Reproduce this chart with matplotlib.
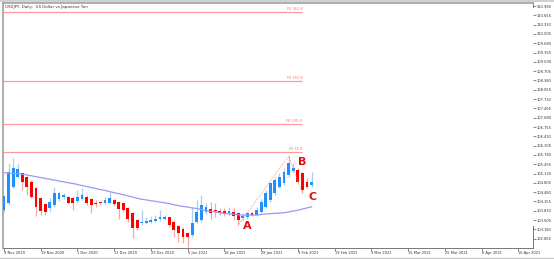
import matplotlib
matplotlib.use("Agg")
import matplotlib.pyplot as plt
import numpy as np

# ---------------- data ----------------
title = "USDJPY, Daily:  US Dollar vs Japanese Yen"

opens = [103.86, 104.09, 104.67, 105.00, 105.14, 105.00, 104.85, 104.61, 104.26, 104.07,
         103.91, 104.03, 104.23, 104.30, 104.32, 104.26, 104.18, 104.23, 104.32, 104.23,
         104.11, 104.11, 104.09, 104.11, 104.20, 104.15, 104.09, 103.91, 103.74, 103.51,
         103.39, 103.41, 103.45, 103.48, 103.53, 103.55, 103.60, 103.45, 103.30, 103.18,
         103.04, 102.98, 103.45, 103.51, 103.80, 103.88, 103.83, 103.83, 103.82, 103.76,
         103.80, 103.74, 103.59, 103.62, 103.74, 103.68, 103.80, 103.97, 104.20, 104.44,
         104.67, 104.79, 105.08, 105.23, 105.25, 105.14, 104.85, 104.73]
highs = [104.38, 105.49, 105.66, 105.49, 105.16, 105.04, 104.90, 104.67, 104.32, 104.11,
         104.26, 104.67, 104.50, 104.44, 104.34, 104.30, 104.55, 104.61, 104.38, 104.26,
         104.20, 104.15, 104.32, 104.50, 104.23, 104.18, 104.11, 103.97, 103.80, 103.53,
         103.86, 103.62, 103.65, 103.68, 103.86, 103.68, 103.62, 103.51, 103.33, 103.25,
         103.10, 103.97, 104.20, 104.38, 104.09, 104.15, 104.09, 103.91, 103.91, 103.97,
         103.91, 103.80, 103.74, 103.80, 103.80, 103.97, 104.23, 104.55, 104.85, 105.02,
         105.14, 105.31, 105.74, 105.49, 105.31, 105.19, 104.96, 105.19]
lows = [103.80, 104.03, 104.61, 104.96, 104.55, 104.38, 104.26, 103.65, 103.68, 103.68,
        103.80, 103.97, 104.18, 104.23, 104.07, 103.86, 104.11, 104.20, 104.03, 103.74,
        103.97, 104.03, 104.05, 104.09, 104.00, 103.53, 103.80, 103.45, 102.87, 103.16,
        103.33, 103.37, 103.39, 103.45, 103.48, 103.51, 103.25, 102.92, 102.75, 102.69,
        102.58, 102.90, 103.39, 103.45, 103.72, 103.53, 103.62, 103.68, 103.65, 103.68,
        103.51, 103.33, 103.51, 103.56, 103.65, 103.65, 103.74, 103.91, 104.15, 104.38,
        104.61, 104.73, 105.02, 105.19, 104.81, 104.44, 104.61, 104.67]
closes = [104.34, 105.19, 105.31, 105.28, 104.85, 104.67, 104.32, 103.97, 103.83, 103.80,
          104.15, 104.44, 104.44, 104.38, 104.11, 104.11, 104.30, 104.38, 104.11, 104.03,
          104.07, 104.10, 104.20, 104.26, 104.07, 103.88, 103.86, 103.53, 103.22, 103.22,
          103.45, 103.47, 103.51, 103.55, 103.60, 103.62, 103.33, 103.16, 103.04, 102.92,
          102.92, 103.39, 103.80, 104.03, 103.97, 103.76, 103.82, 103.76, 103.74, 103.83,
          103.65, 103.51, 103.65, 103.74, 103.69, 103.86, 104.15, 104.44, 104.79, 104.90,
          105.02, 105.19, 105.49, 105.31, 104.85, 104.55, 104.67, 104.85]
ma_values = [105.16, 105.15, 105.14, 105.12, 105.11, 105.08, 105.05, 105.02, 104.99, 104.96,
             104.93, 104.90, 104.87, 104.84, 104.81, 104.78, 104.75, 104.71, 104.68, 104.64,
             104.61, 104.57, 104.54, 104.50, 104.46, 104.43, 104.39, 104.35, 104.31, 104.27,
             104.23, 104.21, 104.18, 104.16, 104.13, 104.11, 104.08, 104.04, 104.01, 103.98,
             103.96, 103.93, 103.91, 103.87, 103.83, 103.81, 103.79, 103.76, 103.74, 103.72,
             103.71, 103.69, 103.68, 103.68, 103.68, 103.68, 103.70, 103.72, 103.73, 103.74,
             103.75, 103.76, 103.79, 103.82, 103.85, 103.89, 103.93, 103.97]

date_labels = ["9 Nov 2020", "19 Nov 2020", "1 Dec 2020", "11 Dec 2020", "23 Dec 2020",
               "5 Jan 2021", "18 Jan 2021", "28 Jan 2021", "9 Feb 2021", "19 Feb 2021",
               "3 Mar 2021", "15 Mar 2021", "25 Mar 2021", "6 Apr 2021", "16 Apr 2021"]
date_label_bars = [0, 8, 16, 24, 32, 40, 48, 56, 64, 72, 80, 88, 96, 104, 112]

price_ticks = [102.855, 103.180, 103.505, 103.830, 104.155, 104.480, 104.805, 105.130,
               105.455, 105.780, 106.105, 106.430, 106.755, 107.080, 107.405, 107.730,
               108.055, 108.380, 108.705, 109.030, 109.355, 109.680, 110.005, 110.330,
               110.655, 110.980]

fib_levels = [105.89, 106.86, 108.36, 110.77]
fib_labels = ["FE 61.8", "FE 100.0", "FE 161.8", "FE 261.8"]

abc_bars = [51, 62, 65]
abc_prices = [103.33, 105.74, 104.44]
letter_names = ["A", "B", "C"]
letter_bars = [53.0, 64.9, 67.2]
letter_prices = [103.30, 105.54, 104.32]

# ---------------- figure ----------------
W, H = 554, 259
fig = plt.figure(figsize=(W / 100, H / 100), dpi=100, facecolor="white")
ax = fig.add_axes([3 / W, (H - 248) / H, 530 / W, 245 / H])
ax.set_facecolor("white")

x = np.arange(len(opens))
o = np.array(opens); c = np.array(closes); hi = np.array(highs); lo = np.array(lows)
up = c >= o
blue, red = "#1e90ff", "#ff0000"
blue_w, red_w = "#a8cff5", "#f5a8a8"

ax.vlines(x[up], lo[up], hi[up], color=blue_w, lw=0.9, zorder=2)
ax.vlines(x[~up], lo[~up], hi[~up], color=red_w, lw=0.9, zorder=2)
bottoms = np.minimum(o, c)
heights = np.maximum(np.abs(c - o), 0.02)
ax.bar(x[up], heights[up], bottom=bottoms[up], width=0.62, color=blue, lw=0, zorder=3)
ax.bar(x[~up], heights[~up], bottom=bottoms[~up], width=0.62, color=red, lw=0, zorder=3)

ax.plot(x, ma_values, color="#9a9af2", lw=0.9, zorder=4)

xl = (-0.2, 115.2)
for lvl, lab in zip(fib_levels, fib_labels):
    ax.hlines(lvl, xl[0], 65.0, color="#ff9a9a", lw=0.9, zorder=1)
    ax.text(65.0, lvl + 0.03, lab, color="#ff7070", fontsize=2.6,
            ha="right", va="bottom", zorder=5)

ax.plot(abc_bars, abc_prices, color="#ff8080", lw=0.6, ls=(0, (1, 1.2)), zorder=5)

for name, bx, py in zip(letter_names, letter_bars, letter_prices):
    ax.text(bx, py, name, color="#e01010", fontsize=8, fontweight="bold",
            ha="center", va="center", zorder=6)

ax.set_xlim(*xl)
ax.set_ylim(102.53, 111.085)

ax.set_xticks(date_label_bars)
ax.set_xticklabels(date_labels, fontsize=2.6, color="#333333", ha="left")
ax.tick_params(axis="x", length=2, width=0.5, color="#555555", pad=0.5)

ax.yaxis.tick_right()
ax.set_yticks(price_ticks)
ax.set_yticklabels([f"{v:.3f}" for v in price_ticks], fontsize=2.6, color="#333333")
ax.tick_params(axis="y", length=2, width=0.5, color="#555555", pad=0.8)

for s in ["top", "left"]:
    ax.spines[s].set_color("#a0a0a0")
    ax.spines[s].set_linewidth(1.2)
ax.spines["bottom"].set_color("#777777")
ax.spines["bottom"].set_linewidth(0.7)
ax.spines["right"].set_visible(False)
# partial right border segments
ax.plot([1, 1], [0, 0.09], transform=ax.transAxes, color="#777777", lw=0.7, clip_on=False)
ax.plot([1, 1], [0.985, 1.0], transform=ax.transAxes, color="#777777", lw=0.7, clip_on=False)

fig.text(5 / W, 1 - 7 / H, title, fontsize=2.9, color="#333333", va="center", ha="left")
fig.add_artist(plt.Line2D([0, 1], [1 / H, 1 / H], color="#c8c8c8", lw=1.0))
fig.add_artist(plt.Line2D([0, 1], [1 - 1 / H, 1 - 1 / H], color="#d0d0d0", lw=1.5))

fig.savefig("out.png", dpi=100, facecolor="white")
